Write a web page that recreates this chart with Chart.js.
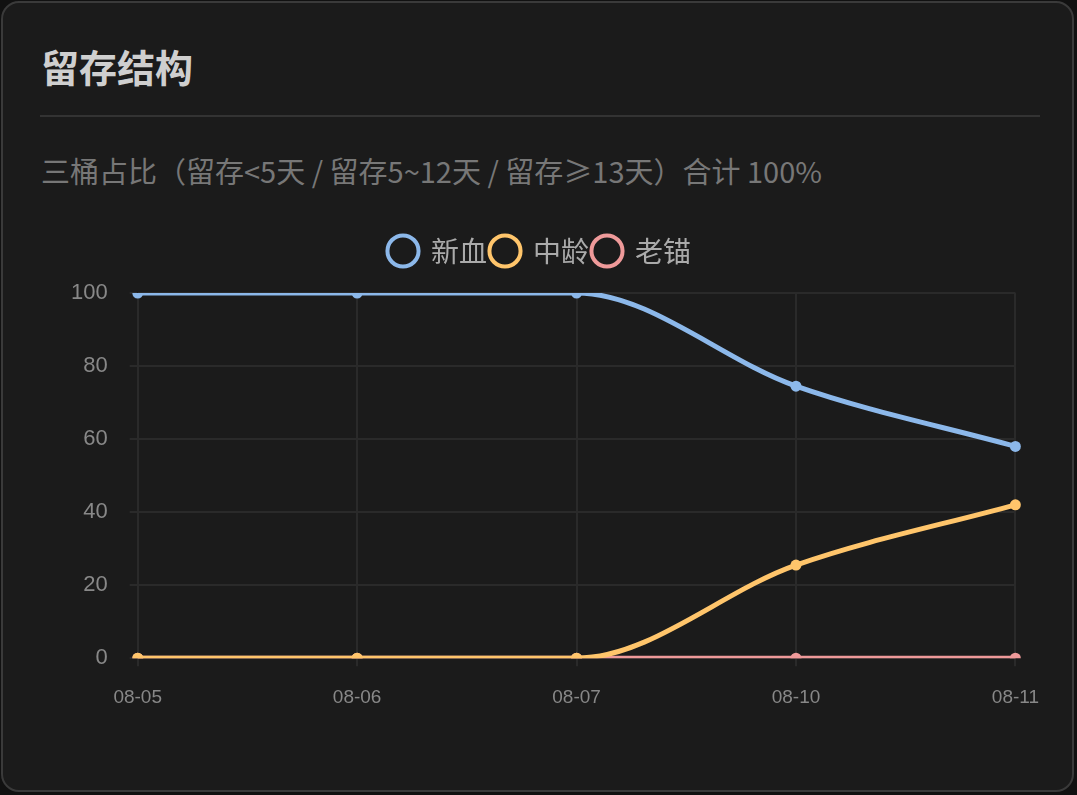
<!DOCTYPE html>
<html><head><meta charset="utf-8">
<script src="https://cdn.jsdelivr.net/npm/chart.js@4"></script>
<style>
html,body{margin:0;padding:0;background:#111;}
body{width:1077px;height:795px;overflow:hidden;font-family:"Noto Sans CJK SC","Liberation Sans",sans-serif;}
.card{position:absolute;left:1px;top:1px;width:1073px;height:791px;box-sizing:border-box;background:#1b1b1b;border:2px solid #3a3a3a;border-radius:18px;}
h1{position:absolute;left:38px;top:44px;margin:0;font-size:38px;font-weight:bold;color:#cfcfcf;line-height:1;}
.hr{position:absolute;left:37px;top:112px;width:1000px;height:2px;background:#333;}
.sub{position:absolute;left:38px;top:150px;font-size:29px;color:#777;line-height:1.2;}
.wrap{position:absolute;left:46px;top:230px;width:1010px;height:496px;}
</style></head><body>
<div class="card">
<h1>留存结构</h1><div class="hr"></div>
<div class="sub">三桶占比（留存&lt;5天 / 留存5~12天 / 留存≥13天）合计 100%</div>
<div class="wrap"><canvas id="c"></canvas></div>
</div>
<script>
const categories=["08-05","08-06","08-07","08-10","08-11"];
const xinxue=[100,100,100,74.5,58];
const zhongling=[0,0,0,25.5,42];
const laomao=[0,0,0,0,0];
const yTicks=[0,20,40,60,80,100];
function ds(label,data,color){return{label,data,borderColor:color,backgroundColor:color,borderWidth:5,pointRadius:5.5,pointBackgroundColor:color,pointBorderWidth:0,cubicInterpolationMode:'monotone',fill:false};}
const legendPad={id:'legendPad',beforeInit(chart){const f=chart.legend.fit;chart.legend.fit=function(){f.bind(chart.legend)();this.height+=18;};}};
new Chart(document.getElementById('c'),{type:'line',plugins:[legendPad],
data:{labels:categories,datasets:[ds('新血',xinxue,'#8cb8ea'),ds('中龄',zhongling,'#ffc56b'),ds('老锚',laomao,'#ef9a9a')]},
options:{responsive:true,maintainAspectRatio:false,animation:false,
layout:{padding:{right:28}},
plugins:{legend:{labels:{usePointStyle:true,pointStyle:'circle',boxWidth:44,boxHeight:22,padding:4,color:'#aaa',font:{size:28,family:'"Noto Sans CJK SC"'},
generateLabels(ch){return ch.data.datasets.map((d,i)=>({text:d.label,fillStyle:'#1b1b1b',strokeStyle:d.borderColor,lineWidth:4,pointStyle:'circle',datasetIndex:i,fontColor:'#aaa'}));}}},tooltip:{enabled:false}},
scales:{x:{grid:{color:'#2a2a2a',lineWidth:2},border:{color:'#2a2a2a'},ticks:{color:'#888',font:{size:19},padding:20}},
y:{min:0,max:100,afterBuildTicks(a){a.ticks=yTicks.map(v=>({value:v}));},grid:{color:'#2a2a2a',lineWidth:2},border:{color:'#2a2a2a'},ticks:{color:'#888',font:{size:22},padding:22}}}}});
</script></body></html>
